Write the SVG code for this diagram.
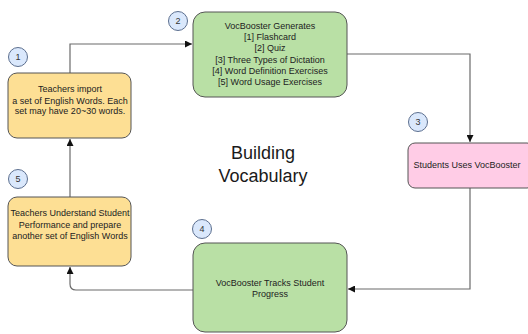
<svg xmlns="http://www.w3.org/2000/svg" width="528" height="334" viewBox="0 0 528 334">
<style>
  .box { stroke: #555555; stroke-width: 1; }
  .yellow { fill: #fddf94; }
  .green { fill: #b9e0a5; }
  .pink { fill: #ffcce6; }
  .lbl { font-family: "Liberation Sans", Arial, sans-serif; font-size: 9px; fill: #222222; text-anchor: middle; }
  .num { font-family: "Liberation Sans", Arial, sans-serif; font-size: 9px; fill: #333333; text-anchor: middle; }
  .badge { fill: #dae8fc; stroke: #5c6f8f; stroke-width: 1; }
  .title { font-family: "Liberation Sans", Arial, sans-serif; font-size: 18px; fill: #1a1a1a; text-anchor: middle; }
  .edge { fill: none; stroke: #6b6b6b; stroke-width: 1.2; }
</style>
<defs>
  <marker id="arr" viewBox="0 0 10 10" refX="10" refY="5" markerWidth="7" markerHeight="7" markerUnits="userSpaceOnUse" orient="auto">
    <path d="M0,0 L10,5 L0,10 z" fill="#111111"/>
  </marker>
</defs>
<rect width="528" height="334" fill="#ffffff"/>

<g id="connectors">
  <path class="edge" d="M70,73 L70,44 L192,44" marker-end="url(#arr)"/>
  <path class="edge" d="M347,54 L470,54 L470,142" marker-end="url(#arr)"/>
  <path class="edge" d="M470,188 L470,289 L348,289" marker-end="url(#arr)"/>
  <path class="edge" d="M193,290 L76,290 Q70,290 70,284 L70,267" marker-end="url(#arr)"/>
  <path class="edge" d="M70,197 L70,139" marker-end="url(#arr)"/>
</g>

<g id="node1">
  <rect class="box yellow" x="8" y="73" width="123" height="65" rx="9"/>
  <text class="lbl" x="70" y="92">Teachers import</text>
  <text class="lbl" x="70" y="103.5">a set of English Words. Each</text>
  <text class="lbl" x="70" y="114">set may have 20~30 words.</text>
</g>
<g id="badge1">
  <circle class="badge" cx="18" cy="57" r="9.5"/>
  <text class="num" x="18" y="60">1</text>
</g>

<g id="node2">
  <rect class="box green" x="193" y="12" width="154" height="85" rx="12"/>
  <text class="lbl" x="270" y="29">VocBooster Generates</text>
  <text class="lbl" x="270" y="40.2">[1] Flashcard</text>
  <text class="lbl" x="270" y="51.4">[2] Quiz</text>
  <text class="lbl" x="270" y="62.6">[3] Three Types of Dictation</text>
  <text class="lbl" x="270" y="73.8">[4] Word Definition Exercises</text>
  <text class="lbl" x="270" y="85">[5] Word Usage Exercises</text>
</g>
<g id="badge2">
  <circle class="badge" cx="178" cy="21" r="9.5"/>
  <text class="num" x="178" y="24">2</text>
</g>

<g id="node3">
  <rect class="box pink" x="408" y="143" width="126" height="45" rx="7"/>
  <text class="lbl" x="467" y="168">Students Uses VocBooster</text>
</g>
<g id="badge3">
  <circle class="badge" cx="418" cy="122" r="9.5"/>
  <text class="num" x="418" y="125">3</text>
</g>

<g id="node4">
  <rect class="box green" x="193" y="243" width="154" height="89" rx="12"/>
  <text class="lbl" x="270" y="286">VocBooster Tracks Student</text>
  <text class="lbl" x="270" y="297">Progress</text>
</g>
<g id="badge4">
  <circle class="badge" cx="202" cy="229" r="9.5"/>
  <text class="num" x="202" y="232">4</text>
</g>

<g id="node5">
  <rect class="box yellow" x="8" y="197" width="123" height="69" rx="9"/>
  <text class="lbl" x="70" y="216">Teachers Understand Student</text>
  <text class="lbl" x="70" y="227.5">Performance and prepare</text>
  <text class="lbl" x="70" y="239">another set of English Words</text>
</g>
<g id="badge5">
  <circle class="badge" cx="18" cy="179" r="9.5"/>
  <text class="num" x="18" y="182">5</text>
</g>

<g id="title">
  <text class="title" x="263" y="159">Building</text>
  <text class="title" x="263" y="182">Vocabulary</text>
</g>
</svg>
